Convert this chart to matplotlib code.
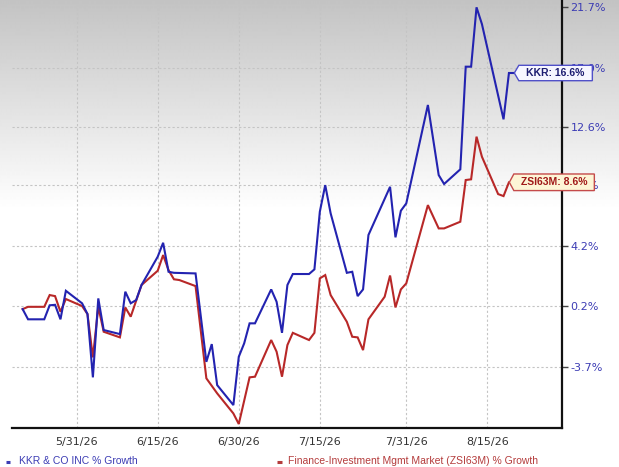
import numpy as np
import matplotlib
matplotlib.use('Agg')
import matplotlib.pyplot as plt
import matplotlib.dates as mdates
from matplotlib.patches import Polygon
from matplotlib.lines import Line2D
from matplotlib.transforms import IdentityTransform

# ---------------- data ----------------
kkr_dates = ['2026-05-21', '2026-05-22', '2026-05-25', '2026-05-26', '2026-05-27', '2026-05-28',
             '2026-05-29', '2026-06-01', '2026-06-02', '2026-06-03', '2026-06-04', '2026-06-05',
             '2026-06-08', '2026-06-09', '2026-06-10', '2026-06-11', '2026-06-12', '2026-06-15',
             '2026-06-16', '2026-06-17', '2026-06-18', '2026-06-22', '2026-06-24', '2026-06-25',
             '2026-06-26', '2026-06-29', '2026-06-30', '2026-07-01', '2026-07-02', '2026-07-03',
             '2026-07-06', '2026-07-07', '2026-07-08', '2026-07-09', '2026-07-10', '2026-07-13',
             '2026-07-14', '2026-07-15', '2026-07-16', '2026-07-17', '2026-07-20', '2026-07-21',
             '2026-07-22', '2026-07-23', '2026-07-24', '2026-07-28', '2026-07-29', '2026-07-30',
             '2026-07-31', '2026-08-04', '2026-08-06', '2026-08-07', '2026-08-10', '2026-08-11',
             '2026-08-12', '2026-08-13', '2026-08-14', '2026-08-18', '2026-08-19', '2026-08-20']
kkr_vals = [0.0, -0.66, -0.66, 0.25, 0.28, -0.66,
            1.20, 0.38, -0.32, -4.34, 0.70, -1.35,
            -1.61, 1.14, 0.38, 0.59, 1.58, 3.47,
            4.41, 2.46, 2.39, 2.35, -3.37, -2.25,
            -4.82, -6.05, -3.05, -2.20, -0.92, -0.92,
            1.29, 0.48, -1.53, 1.58, 2.31, 2.31,
            2.62, 6.54, 8.40, 6.43, 2.39, 2.46,
            0.85, 1.29, 4.94, 8.28, 4.78, 6.61,
            7.12, 14.20, 9.11, 8.48, 9.52, 17.08,
            17.08, 21.69, 20.37, 13.14, 16.6, 16.6]

zsi_dates = ['2026-05-21', '2026-05-22', '2026-05-25', '2026-05-26', '2026-05-27', '2026-05-28',
             '2026-05-29', '2026-06-01', '2026-06-02', '2026-06-03', '2026-06-04', '2026-06-05',
             '2026-06-08', '2026-06-09', '2026-06-10', '2026-06-12', '2026-06-15', '2026-06-16',
             '2026-06-17', '2026-06-18', '2026-06-19', '2026-06-22', '2026-06-24', '2026-06-26',
             '2026-06-29', '2026-06-30', '2026-07-02', '2026-07-03', '2026-07-06', '2026-07-07',
             '2026-07-08', '2026-07-09', '2026-07-10', '2026-07-13', '2026-07-14', '2026-07-15',
             '2026-07-16', '2026-07-17', '2026-07-20', '2026-07-21', '2026-07-22', '2026-07-23',
             '2026-07-24', '2026-07-27', '2026-07-28', '2026-07-29', '2026-07-30', '2026-07-31',
             '2026-08-04', '2026-08-06', '2026-08-07', '2026-08-10', '2026-08-11', '2026-08-12',
             '2026-08-13', '2026-08-14', '2026-08-17', '2026-08-18', '2026-08-19', '2026-08-20']
zsi_vals = [0.0, 0.15, 0.15, 0.92, 0.85, -0.17,
            0.66, 0.20, -0.32, -3.09, 0.15, -1.46,
            -1.82, 0.11, -0.49, 1.58, 2.53, 3.58,
            2.57, 1.96, 1.91, 1.51, -4.40, -5.33,
            -6.56, -7.20, -4.34, -4.30, -1.99, -2.73,
            -4.30, -2.31, -1.53, -1.99, -1.53, 2.02,
            2.24, 0.92, -0.82, -1.78, -1.82, -2.63,
            -0.66, 0.81, 2.21, 0.11, 1.29, 1.69,
            7.00, 5.39, 5.39, 5.85, 8.76, 8.81,
            11.87, 10.42, 7.77, 7.63, 8.6, 8.6]

xtick_dates = ['2026-05-31', '2026-06-15', '2026-06-30', '2026-07-15', '2026-07-31', '2026-08-15']
xtick_labels = ['5/31/26', '6/15/26', '6/30/26', '7/15/26', '7/31/26', '8/15/26']
ytick_vals = [-3.7, 0.2, 4.2, 8.4, 12.6, 17.0, 21.7]

kkr_name = 'KKR & CO INC % Growth'
zsi_name = 'Finance-Investment Mgmt Market (ZSI63M) % Growth'
kkr_tag = 'KKR'
zsi_tag = 'ZSI63M'

# ---------------- style ----------------
W, H = 619, 467
BLUE = '#2323b0'
RED = '#b82828'
BLUE_TXT = '#3c3cb4'
RED_TXT = '#b43c3c'

fig = plt.figure(figsize=(W / 100, H / 100), dpi=100)

# background vertical gradient (grey at top -> white)
bg = fig.add_axes([0, 0, 1, 1], zorder=-10)
rows = np.arange(H)
grad = 0.765 + 0.235 * np.clip(rows / 210.0, 0, 1)
bg.imshow(np.repeat(grad[:, None], 2, axis=1), cmap='gray', vmin=0, vmax=1,
          aspect='auto', extent=[0, 1, 0, 1], interpolation='bilinear')
bg.axis('off')

ax = fig.add_axes([12 / W, (H - 428) / H, (562 - 12) / W, 428 / H])
ax.set_facecolor('none')


def fwd(v):
    return np.log1p(np.asarray(v, dtype=float) / 100.0)


def inv(u):
    return np.expm1(np.asarray(u, dtype=float)) * 100.0


ax.set_yscale('function', functions=(fwd, inv))

kd = np.array(kkr_dates, dtype='datetime64[D]')
zd = np.array(zsi_dates, dtype='datetime64[D]')
ax.plot(zd, zsi_vals, color=RED, lw=1.5, zorder=3, solid_joinstyle='miter')
ax.plot(kd, kkr_vals, color=BLUE, lw=1.5, zorder=4, solid_joinstyle='miter')

base = mdates.date2num(np.datetime64('2026-05-31'))
ax.set_xlim(base - 11.97, base + 89.82)
ax.set_ylim(-7.44, 22.27)

ax.set_xticks(mdates.date2num(np.array(xtick_dates, dtype='datetime64[D]')))
ax.set_xticklabels(xtick_labels)
ax.yaxis.tick_right()
ax.set_yticks(ytick_vals)
ax.set_yticklabels([f'{v:.1f}%' for v in ytick_vals])
ax.yaxis.set_minor_locator(matplotlib.ticker.NullLocator())

ax.tick_params(axis='x', length=0, pad=6.5, labelsize=8, labelcolor='#333333')
ax.tick_params(axis='y', direction='out', length=4, width=1, color='#444444',
               pad=2, labelsize=8, labelcolor=BLUE_TXT)

ax.grid(True, color='#c4c4c4', ls=(0, (2, 2)), lw=0.8)
ax.set_axisbelow(True)

for s in ['left', 'top']:
    ax.spines[s].set_visible(False)
for s in ['right', 'bottom']:
    ax.spines[s].set_color('#111111')
    ax.spines[s].set_linewidth(1.6)

# ---------------- end-of-line tags ----------------
ident = IdentityTransform()


def tag(date, val, text, dx, body, half, fc, ec, tc):
    tx, ty = ax.transData.transform((mdates.date2num(np.datetime64(date)), val))
    tx += dx
    pts = [(tx, ty), (tx + 4.5, ty + half), (tx + body, ty + half),
           (tx + body, ty - half), (tx + 4.5, ty - half)]
    fig.add_artist(Polygon(pts, closed=True, transform=ident, facecolor=fc,
                           edgecolor=ec, lw=1.0, zorder=20))
    fig.text((tx + 4.5 + (body - 4.5) / 2) / W, ty / H, text, transform=fig.transFigure,
             ha='center', va='center', fontsize=7.5, fontweight='bold',
             family='Liberation Sans', color=tc, zorder=21)


tag(kkr_dates[-1], kkr_vals[-1], f'{kkr_tag}: {kkr_vals[-1]:.1f}%', 0, 78, 7.7,
    '#f6f6ff', '#5050c8', '#1c1c70')
tag(zsi_dates[-1], zsi_vals[-1], f'{zsi_tag}: {zsi_vals[-1]:.1f}%', -5, 85, 8.3,
    '#fdf5d6', '#c44a4a', '#a01818')

# ---------------- legend ----------------
ly = H - 461.5
fig.add_artist(Line2D([6, 10], [ly, ly], transform=ident, color=BLUE_TXT, lw=2.2,
                      solid_capstyle='butt'))
fig.text(19 / W, ly / H, kkr_name, color=BLUE_TXT, fontsize=7.5, family='Liberation Sans',
         ha='left', va='center')
fig.add_artist(Line2D([277, 281.5], [ly, ly], transform=ident, color=RED_TXT, lw=2.2,
                      solid_capstyle='butt'))
fig.text(288.5 / W, ly / H, zsi_name, color=RED_TXT, fontsize=7.5, family='Liberation Sans',
         ha='left', va='center')

fig.savefig('out.png', dpi=100)
